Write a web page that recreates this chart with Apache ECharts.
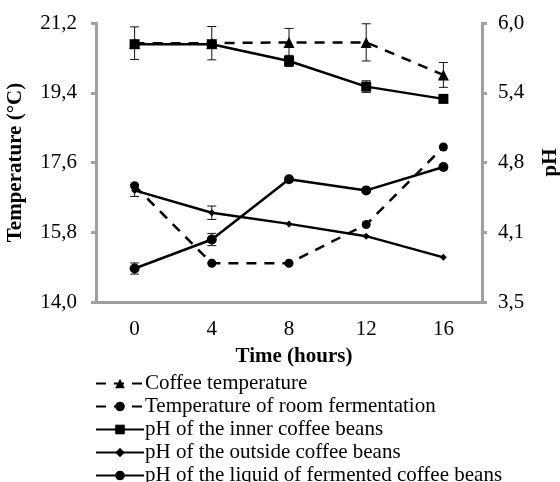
<!DOCTYPE html>
<html><head><meta charset="utf-8">
<script src="https://cdn.jsdelivr.net/npm/echarts@6/dist/echarts.min.js"></script>
<style>html,body{margin:0;padding:0;background:#fff}#c{width:560px;height:482px}</style>
</head><body><div id="c"></div>
<script>
const hours = ['0', '4', '8', '12', '16'];
const tempTicks = [14.0, 15.8, 17.6, 19.4, 21.2];
const phTicks = [3.5, 4.125, 4.75, 5.375, 6.0];
const coffeeTemp = [20.68, 20.68, 20.70, 20.70, 19.86];
const coffeeTempErr = [0.42, 0.43, 0.36, 0.48, 0.32];
const roomTemp = [17.0, 15.0, 15.0, 16.0, 18.0];
const roomTempErr = [0, 0, 0, 0, 0];
const phInner = [5.81, 5.81, 5.66, 5.43, 5.32];
const phInnerErr = [0, 0, 0.05, 0.052, 0];
const phOutside = [4.50, 4.30, 4.20, 4.09, 3.90];
const phOutsideErr = [0.054, 0.06, 0, 0, 0];
const phLiquid = [3.80, 4.06, 4.60, 4.50, 4.71];
const phLiquidErr = [0.05, 0.055, 0, 0, 0];

const FONT = '"Liberation Serif", "Times New Roman", serif';
const AXIS_GRAY = '#a0a0a0';
const FS = 21;
const fmt = v => Number(v).toFixed(1).replace('.', ',');

function errSeries(vals, errs, yIdx) {
  return {
    type: 'custom',
    yAxisIndex: yIdx,
    silent: true,
    z: 1,
    data: vals.map((v, i) => [i, v - errs[i], v + errs[i]]),
    renderItem: function (params, api) {
      const lo = api.coord([api.value(0), api.value(1)]);
      const hi = api.coord([api.value(0), api.value(2)]);
      if (Math.abs(lo[1] - hi[1]) < 0.5) return null;
      const w = 4.5;
      const st = { stroke: '#111', lineWidth: 1 };
      return {
        type: 'group',
        children: [
          { type: 'line', shape: { x1: lo[0], y1: lo[1], x2: hi[0], y2: hi[1] }, style: st },
          { type: 'line', shape: { x1: lo[0] - w, y1: lo[1], x2: lo[0] + w, y2: lo[1] }, style: st },
          { type: 'line', shape: { x1: hi[0] - w, y1: hi[1], x2: hi[0] + w, y2: hi[1] }, style: st }
        ]
      };
    }
  };
}

function lineSeries(name, vals, yIdx, symbol, size, dashed) {
  return {
    name: name,
    type: 'line',
    yAxisIndex: yIdx,
    data: vals,
    symbol: symbol,
    symbolSize: size,
    z: 3,
    lineStyle: { color: '#000', width: 2.5, type: dashed ? [10, 8] : 'solid' },
    itemStyle: { color: '#000', borderWidth: 0 }
  };
}

const chart = echarts.init(document.getElementById('c'));
chart.setOption({
  animation: false,
  backgroundColor: '#fff',
  grid: { left: 96, right: 78, top: 23, bottom: 180, containLabel: false, outerBoundsMode: 'none' },
  legend: {
    orient: 'vertical',
    left: 95,
    top: 373,
    padding: 0,
    height: 150,
    itemWidth: 48,
    itemHeight: 12,
    itemGap: 2,
    textStyle: { fontFamily: FONT, fontSize: FS, lineHeight: 21, color: '#000', padding: [0, 0, 0, -4] },
    data: ['Coffee temperature', 'Temperature of room fermentation', 'pH of the inner coffee beans', 'pH of the outside coffee beans', 'pH of the liquid of fermented coffee beans']
  },
  xAxis: {
    type: 'category',
    data: hours,
    boundaryGap: true,
    name: 'Time (hours)',
    nameLocation: 'middle',
    nameGap: 44,
    nameTextStyle: { fontFamily: FONT, fontSize: 21, fontWeight: 'bold', color: '#000', padding: [0, 0, 0, 10] },
    axisLine: { lineStyle: { color: AXIS_GRAY, width: 3 } },
    axisTick: { alignWithLabel: true, length: 5, lineStyle: { color: AXIS_GRAY, width: 3 } },
    axisLabel: { fontFamily: FONT, fontSize: FS, color: '#000', margin: 17 },
    splitLine: { show: false }
  },
  yAxis: [
    {
      type: 'value',
      min: 14.0,
      max: 21.2,
      name: 'Temperature (°C)',
      nameLocation: 'middle',
      nameGap: 70,
      nameRotate: 90,
      nameTextStyle: { fontFamily: FONT, fontSize: 21, fontWeight: 'bold', color: '#000' },
      axisLine: { show: true, lineStyle: { color: AXIS_GRAY, width: 3 } },
      axisTick: { show: true, length: 5, customValues: tempTicks, lineStyle: { color: AXIS_GRAY, width: 3 } },
      axisLabel: { fontFamily: FONT, fontSize: FS, color: '#000', margin: 19, customValues: tempTicks, formatter: fmt },
      splitLine: { show: false }
    },
    {
      type: 'value',
      min: 3.5,
      max: 6.0,
      position: 'right',
      name: 'pH',
      nameLocation: 'middle',
      nameGap: 58,
      nameRotate: 90,
      nameTextStyle: { fontFamily: FONT, fontSize: 21, fontWeight: 'bold', color: '#000' },
      axisLine: { show: true, lineStyle: { color: AXIS_GRAY, width: 3 } },
      axisTick: { show: true, length: 5, customValues: phTicks, lineStyle: { color: AXIS_GRAY, width: 3 } },
      axisLabel: { fontFamily: FONT, fontSize: FS, color: '#000', margin: 16, customValues: phTicks, formatter: fmt },
      splitLine: { show: false }
    }
  ],
  series: [
    errSeries(coffeeTemp, coffeeTempErr, 0),
    errSeries(roomTemp, roomTempErr, 0),
    errSeries(phInner, phInnerErr, 1),
    errSeries(phOutside, phOutsideErr, 1),
    errSeries(phLiquid, phLiquidErr, 1),
    lineSeries('Coffee temperature', coffeeTemp, 0, 'triangle', 11, true),
    lineSeries('Temperature of room fermentation', roomTemp, 0, 'circle', 9, true),
    lineSeries('pH of the inner coffee beans', phInner, 1, 'rect', 10, false),
    lineSeries('pH of the outside coffee beans', phOutside, 1, 'diamond', 7, false),
    lineSeries('pH of the liquid of fermented coffee beans', phLiquid, 1, 'circle', 10, false)
  ]
});
</script>
</body></html>
